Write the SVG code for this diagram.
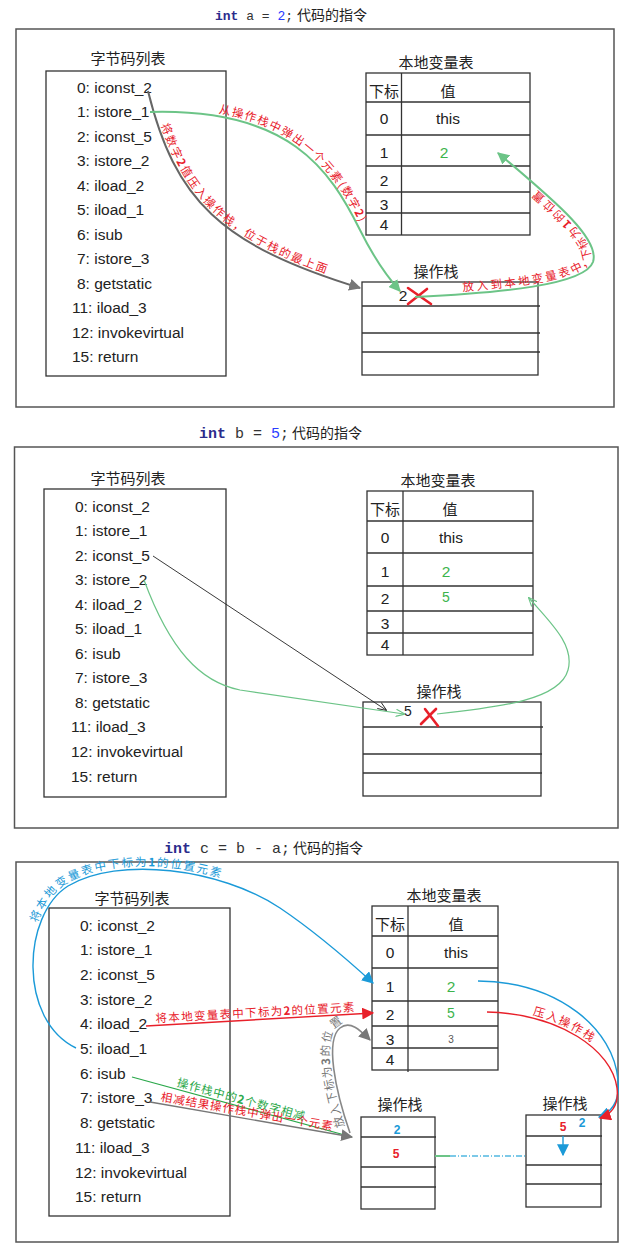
<svg xmlns="http://www.w3.org/2000/svg" width="626" height="1260" viewBox="0 0 626 1260">
<style>
.outer{fill:none;stroke:#555;stroke-width:1.5}
.box{fill:none;stroke:#333;stroke-width:1.3}
.ln{stroke:#333;stroke-width:1.3}
.code{font-family:"Liberation Sans","Noto Sans CJK SC",sans-serif;font-size:15.5px;fill:#222;dominant-baseline:central}
.cjk{font-family:"Noto Sans CJK SC",sans-serif;font-size:15px;fill:#222;dominant-baseline:central}
.cell{font-family:"Liberation Sans","Noto Sans CJK SC",sans-serif;font-size:15.5px;fill:#222;dominant-baseline:central;text-anchor:middle}
.small{font-size:10px;fill:#555}
.sv{font-size:12px;font-weight:bold}
.mono{font-family:"Liberation Mono",monospace}
.kw{font-weight:bold;fill:#2b2b8c}
.num{fill:#2a3cff}
.tcjk{font-family:"Noto Sans CJK SC",sans-serif;fill:#222}
.lbl{font-family:"Noto Sans CJK SC",sans-serif;font-size:11.5px;letter-spacing:1px}
.red{fill:#e8202a}
.blue{fill:#1b9ad8}
.grn{fill:#3cb44b}
.cross{stroke:#e8202a;stroke-width:2.6;stroke-linecap:round}
.c-gray{fill:none;stroke:#666;stroke-width:2}
.c-green{fill:none;stroke:#6cc487;stroke-width:2}
.c-thin{fill:none;stroke:#222;stroke-width:0.9}
.c-gthin{fill:none;stroke:#6cc487;stroke-width:1.2}
.c-blue{fill:none;stroke:#1b9ad8;stroke-width:1.4}
.c-red{fill:none;stroke:#e8202a;stroke-width:1.4}
</style>
<defs>
<marker id="mGray" viewBox="0 0 10 10" refX="9" refY="5" markerWidth="12" markerHeight="12" markerUnits="userSpaceOnUse" orient="auto"><path d="M0,0 L10,5 L0,10 z" fill="#777"/></marker>
<marker id="mGreen" viewBox="0 0 10 10" refX="9" refY="5" markerWidth="12" markerHeight="12" markerUnits="userSpaceOnUse" orient="auto"><path d="M0,0 L10,5 L0,10 z" fill="#6cc487"/></marker>
<marker id="mBlue" viewBox="0 0 10 10" refX="9" refY="5" markerWidth="12" markerHeight="12" markerUnits="userSpaceOnUse" orient="auto"><path d="M0,0 L10,5 L0,10 z" fill="#1b9ad8"/></marker>
<marker id="mRed" viewBox="0 0 10 10" refX="9" refY="5" markerWidth="12" markerHeight="12" markerUnits="userSpaceOnUse" orient="auto"><path d="M0,0 L10,5 L0,10 z" fill="#e8202a"/></marker>
<marker id="mOpen" viewBox="0 0 10 10" refX="9" refY="5" markerWidth="9" markerHeight="9" markerUnits="userSpaceOnUse" orient="auto"><path d="M0,1 L10,5 L0,9" fill="none" stroke="#222" stroke-width="1"/></marker>
<marker id="mOpenG" viewBox="0 0 10 10" refX="9" refY="5" markerWidth="9" markerHeight="9" markerUnits="userSpaceOnUse" orient="auto"><path d="M0,1 L10,5 L0,9" fill="none" stroke="#6cc487" stroke-width="1.2"/></marker>
</defs>
<rect width="626" height="1260" fill="#fff"/>

<!-- ========== Section 1 ========== -->
<g id="s1-title"><text x="215" y="20" font-size="13"><tspan class="mono kw">int</tspan><tspan class="mono" fill="#333"> a = </tspan><tspan class="mono num">2</tspan><tspan class="mono" fill="#333">;</tspan><tspan class="tcjk" font-size="14" dx="4">代码的指令</tspan></text></g>
<g id="s1-frame"><rect class="outer" x="16" y="29" width="598" height="378"/></g>
<g id="s1-bytecode">
<text class="cjk" x="128" y="57" text-anchor="middle">字节码列表</text>
<rect class="box" x="46" y="71" width="180" height="305"/>
<text class="code" x="77" y="87">0: iconst_2</text>
<text class="code" x="77" y="111.5">1: istore_1</text>
<text class="code" x="77" y="136">2: iconst_5</text>
<text class="code" x="77" y="160.5">3: istore_2</text>
<text class="code" x="77" y="185">4: iload_2</text>
<text class="code" x="77" y="209.5">5: iload_1</text>
<text class="code" x="77" y="234">6: isub</text>
<text class="code" x="77" y="258.5">7: istore_3</text>
<text class="code" x="77" y="283">8: getstatic</text>
<text class="code" x="72" y="307.5">11: iload_3</text>
<text class="code" x="72" y="332">12: invokevirtual</text>
<text class="code" x="72" y="356.5">15: return</text>
</g>
<g id="s1-locals">
<text class="cjk" x="436" y="61" text-anchor="middle">本地变量表</text>
<rect class="box" x="366" y="73" width="164" height="162"/>
<line class="ln" x1="401.5" y1="73" x2="401.5" y2="235"/>
<line class="ln" x1="366" y1="102" x2="530" y2="102"/>
<line class="ln" x1="366" y1="135" x2="530" y2="135"/>
<line class="ln" x1="366" y1="166" x2="530" y2="166"/>
<line class="ln" x1="366" y1="192" x2="530" y2="192"/>
<line class="ln" x1="366" y1="213" x2="530" y2="213"/>
<text class="cjk" x="384" y="90" text-anchor="middle">下标</text>
<text class="cjk" x="448" y="90" text-anchor="middle">值</text>
<text class="cell" x="384" y="118">0</text><text class="cell" x="448" y="118">this</text>
<text class="cell" x="384" y="152">1</text><text class="cell grn" x="444" y="152">2</text>
<text class="cell" x="384" y="180">2</text>
<text class="cell" x="384" y="204">3</text>
<text class="cell" x="384" y="224">4</text>
</g>
<g id="s1-stack">
<text class="cjk" x="436" y="270" text-anchor="middle">操作栈</text>
<rect class="box" x="362" y="282" width="176" height="93"/>
<line class="ln" x1="362" y1="306" x2="540" y2="306"/>
<line class="ln" x1="362" y1="333" x2="540" y2="333"/>
<line class="ln" x1="362" y1="352" x2="540" y2="352"/>
<text class="cell" x="403" y="295">2</text>
<line class="cross" x1="408" y1="288" x2="431" y2="304"/>
<line class="cross" x1="427" y1="289" x2="408" y2="304"/>
</g>
<g id="s1-connectors">
<path id="p1a" class="c-gray" d="M148,91 C175,200 220,245 360,288" marker-end="url(#mGray)"/>
<path id="p1b" class="c-green" d="M150,112 C290,108 330,170 360,230 C375,260 390,280 400,291" marker-end="url(#mGreen)"/>
<path id="p1c" class="c-green" d="M415,297 C500,293 585,285 593,262 C600,240 560,205 498,153" marker-end="url(#mGreen)"/>
<text class="lbl red" style="letter-spacing:1.9px"><textPath href="#p1a" startOffset="36"><tspan dy="-3">将数字<tspan font-weight="bold">2</tspan>值压入操作栈，位于栈的最上面</tspan></textPath></text>
<text class="lbl red" style="letter-spacing:1.3px"><textPath href="#p1b" startOffset="68"><tspan dy="-3">从操作栈中弹出一个元素(数字<tspan font-weight="bold">2</tspan>)</tspan></textPath></text>
<text class="lbl red" style="letter-spacing:2.6px"><textPath href="#p1c" startOffset="48"><tspan dy="-3">放入到本地变量表中，下标为<tspan font-weight="bold">1</tspan>的位置</tspan></textPath></text>
</g>

<!-- ========== Section 2 ========== -->
<g id="s2-title"><text x="199" y="438" font-size="15"><tspan class="mono kw">int</tspan><tspan class="mono" fill="#333"> b = </tspan><tspan class="mono num">5</tspan><tspan class="mono" fill="#333">;</tspan><tspan class="tcjk" font-size="14" dx="3">代码的指令</tspan></text></g>
<g id="s2-frame"><rect class="outer" x="14.5" y="447" width="603.5" height="381"/></g>
<g id="s2-bytecode">
<text class="cjk" x="128" y="477" text-anchor="middle">字节码列表</text>
<rect class="box" x="44" y="489" width="182" height="308"/>
<text class="code" x="75" y="506">0: iconst_2</text>
<text class="code" x="75" y="530.5">1: istore_1</text>
<text class="code" x="75" y="555">2: iconst_5</text>
<text class="code" x="75" y="579.5">3: istore_2</text>
<text class="code" x="75" y="604">4: iload_2</text>
<text class="code" x="75" y="628.5">5: iload_1</text>
<text class="code" x="75" y="653">6: isub</text>
<text class="code" x="75" y="677.5">7: istore_3</text>
<text class="code" x="75" y="702">8: getstatic</text>
<text class="code" x="71" y="726.5">11: iload_3</text>
<text class="code" x="71" y="751">12: invokevirtual</text>
<text class="code" x="71" y="776">15: return</text>
</g>
<g id="s2-locals">
<text class="cjk" x="438" y="479" text-anchor="middle">本地变量表</text>
<rect class="box" x="367" y="491" width="166" height="164"/>
<line class="ln" x1="403" y1="491" x2="403" y2="655"/>
<line class="ln" x1="367" y1="521" x2="533" y2="521"/>
<line class="ln" x1="367" y1="553" x2="533" y2="553"/>
<line class="ln" x1="367" y1="586" x2="533" y2="586"/>
<line class="ln" x1="367" y1="611" x2="533" y2="611"/>
<line class="ln" x1="367" y1="633" x2="533" y2="633"/>
<text class="cjk" x="385" y="508" text-anchor="middle">下标</text>
<text class="cjk" x="450" y="508" text-anchor="middle">值</text>
<text class="cell" x="385" y="537">0</text><text class="cell" x="451" y="537">this</text>
<text class="cell" x="385" y="571">1</text><text class="cell grn" x="446" y="571">2</text>
<text class="cell" x="385" y="598">2</text><text class="cell grn" x="446" y="597" style="font-size:14px">5</text>
<text class="cell" x="385" y="623">3</text>
<text class="cell" x="385" y="644">4</text>
</g>
<g id="s2-stack">
<text class="cjk" x="439" y="690" text-anchor="middle">操作栈</text>
<rect class="box" x="363" y="702" width="178" height="94"/>
<line class="ln" x1="363" y1="727" x2="543" y2="727"/>
<line class="ln" x1="363" y1="754" x2="542" y2="754"/>
<line class="ln" x1="363" y1="773" x2="542" y2="773"/>
<text class="cell" x="408" y="711" style="font-size:14px">5</text>
<line class="cross" x1="425" y1="709" x2="438" y2="726"/>
<line class="cross" x1="436" y1="709" x2="421" y2="724"/>
</g>
<g id="s2-connectors">
<path class="c-thin" d="M153,556 L386,710" marker-end="url(#mOpen)"/>
<path class="c-gthin" d="M144,580 C170,650 200,682 240,690 L404,714" marker-end="url(#mOpenG)"/>
<path class="c-gthin" d="M437,714 C500,707 560,700 568,670 C575,645 550,622 529,598" marker-end="url(#mOpenG)"/>
</g>

<!-- ========== Section 3 ========== -->
<g id="s3-title"><text x="164" y="853" font-size="15"><tspan class="mono kw">int</tspan><tspan class="mono" fill="#333"> c = b - a;</tspan><tspan class="tcjk" font-size="14" dx="3">代码的指令</tspan></text></g>
<g id="s3-frame"><rect class="outer" x="16" y="862" width="602" height="380"/></g>
<g id="s3-bytecode">
<text class="cjk" x="132" y="897" text-anchor="middle">字节码列表</text>
<rect class="box" x="49" y="908" width="181" height="308"/>
<text class="code" x="80" y="925">0: iconst_2</text>
<text class="code" x="80" y="949.7">1: istore_1</text>
<text class="code" x="80" y="974.4">2: iconst_5</text>
<text class="code" x="80" y="999.1">3: istore_2</text>
<text class="code" x="80" y="1023.8">4: iload_2</text>
<text class="code" x="80" y="1048.5">5: iload_1</text>
<text class="code" x="80" y="1073.2">6: isub</text>
<text class="code" x="80" y="1097.9">7: istore_3</text>
<text class="code" x="80" y="1122.6">8: getstatic</text>
<text class="code" x="75" y="1147.3">11: iload_3</text>
<text class="code" x="75" y="1172">12: invokevirtual</text>
<text class="code" x="75" y="1196.7">15: return</text>
</g>
<g id="s3-locals">
<text class="cjk" x="444" y="894" text-anchor="middle">本地变量表</text>
<rect class="box" x="372" y="906" width="126" height="164"/>
<line class="ln" x1="408" y1="906" x2="408" y2="1072"/>
<line class="ln" x1="372" y1="936" x2="498" y2="936"/>
<line class="ln" x1="372" y1="968" x2="498" y2="968"/>
<line class="ln" x1="372" y1="1001" x2="498" y2="1001"/>
<line class="ln" x1="372" y1="1026" x2="498" y2="1026"/>
<line class="ln" x1="372" y1="1048" x2="498" y2="1048"/>
<text class="cjk" x="390" y="923" text-anchor="middle">下标</text>
<text class="cjk" x="456" y="923" text-anchor="middle">值</text>
<text class="cell" x="390" y="952">0</text><text class="cell" x="456" y="952">this</text>
<text class="cell" x="390" y="986">1</text><text class="cell grn" x="451" y="986">2</text>
<text class="cell" x="390" y="1014">2</text><text class="cell grn" x="451" y="1013" style="font-size:14px">5</text>
<text class="cell" x="390" y="1039">3</text><text class="cell small" x="451" y="1039">3</text>
<text class="cell" x="390" y="1059">4</text>
</g>
<g id="s3-stack1">
<text class="cjk" x="400" y="1103" text-anchor="middle">操作栈</text>
<rect class="box" x="361" y="1117" width="74" height="92"/>
<line class="ln" x1="361" y1="1137" x2="436" y2="1137"/>
<line class="ln" x1="361" y1="1167" x2="436" y2="1167"/>
<line class="ln" x1="361" y1="1187" x2="436" y2="1187"/>
<text class="cell blue sv" x="397" y="1130">2</text>
<text class="cell red sv" x="396" y="1154">5</text>
</g>
<g id="s3-stack2">
<text class="cjk" x="565" y="1102" text-anchor="middle">操作栈</text>
<rect class="box" x="526" y="1115" width="75" height="92"/>
<line class="ln" x1="526" y1="1136" x2="602" y2="1136"/>
<line class="ln" x1="526" y1="1165" x2="602" y2="1165"/>
<line class="ln" x1="526" y1="1184" x2="602" y2="1184"/>
<text class="cell red sv" x="563" y="1127">5</text>
<text class="cell blue sv" x="582" y="1123">2</text>
</g>
<g id="s3-connectors">
<path id="p3a" class="c-blue" d="M76,1048 C18,1020 22,915 68,886 C118,856 220,868 280,908 C320,935 350,962 373,983" marker-end="url(#mBlue)"/>
<path id="p3b" class="c-red" d="M146,1026 L373,1013" marker-end="url(#mRed)"/>
<path class="c-blue" d="M478,981 C560,982 614,1030 618,1080 C620,1100 612,1112 599,1117" marker-end="url(#mBlue)"/>
<path id="p3d" class="c-red" d="M487,1012 C560,1014 612,1050 617,1088 C619,1105 612,1114 600,1118" marker-end="url(#mRed)"/>
<path id="p3e" fill="none" stroke="#2aa84a" stroke-width="1.2" d="M132,1077 L352,1137"/>
<path id="p3f" fill="none" stroke="#777" stroke-width="1.4" d="M150,1102 L352,1137" marker-end="url(#mGray)"/>
<path id="p3g" fill="none" stroke="#888" stroke-width="1.6" d="M350,1133 C335,1090 325,1040 340,1028 C350,1020 360,1030 370,1040" marker-end="url(#mGray)"/>
<path fill="none" stroke="#6cc487" stroke-width="2" d="M435,1156 L450,1156"/>
<path fill="none" stroke="#7cc9e8" stroke-width="2" stroke-dasharray="6 2 1 2" d="M450,1156 L526,1156"/>
<path class="c-blue" d="M563,1136 L563,1155" marker-end="url(#mBlue)"/>
<text class="lbl blue" style="letter-spacing:1.6px"><textPath href="#p3a" startOffset="140"><tspan dy="-3">将本地变量表中下标为<tspan font-weight="bold">1</tspan>的位置元素</tspan></textPath></text>
<text class="lbl red" style="letter-spacing:1.3px"><textPath href="#p3b" startOffset="10"><tspan dy="-3">将本地变量表中下标为<tspan font-weight="bold">2</tspan>的位置元素</tspan></textPath></text>
<text class="lbl red" style="letter-spacing:1.6px"><textPath href="#p3d" startOffset="45"><tspan dy="-3">压入操作栈</tspan></textPath></text>
<text class="lbl" fill="#2aa84a"><textPath href="#p3e" startOffset="45"><tspan dy="-3">操作栈中的<tspan font-weight="bold">2</tspan>个数字相减</tspan></textPath></text>
<text class="lbl red"><textPath href="#p3f" startOffset="10"><tspan dy="-3">相减结果操作栈中弹出一个元素</tspan></textPath></text>
<text class="lbl" fill="#777"><textPath href="#p3g" startOffset="8"><tspan dy="-3">放入下标为<tspan font-weight="bold">3</tspan>的位置</tspan></textPath></text>
</g>
</svg>
